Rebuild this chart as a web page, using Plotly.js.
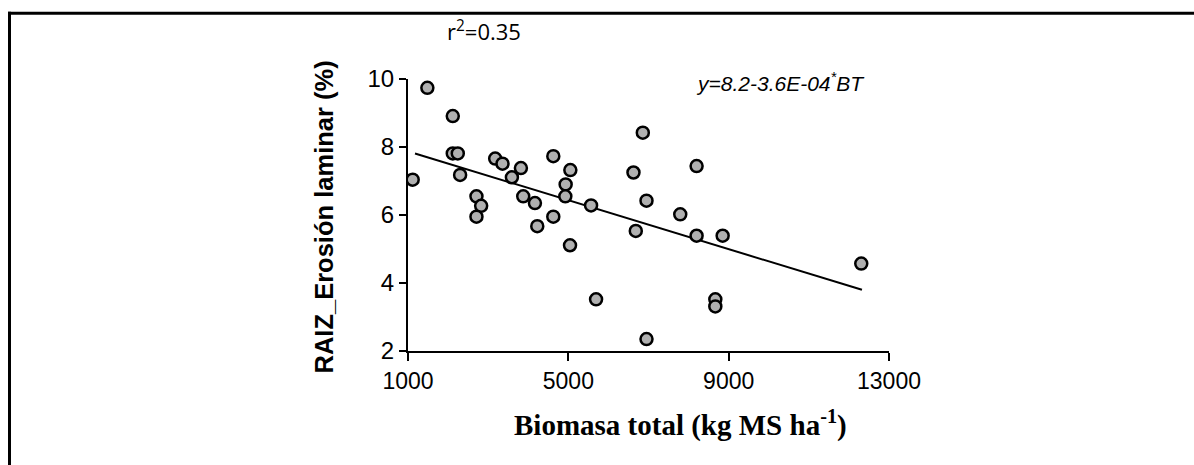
<!DOCTYPE html>
<html>
<head>
<meta charset="utf-8">
<script src="https://cdn.plot.ly/plotly-3.0.1.min.js"></script>
<style>
html,body{margin:0;padding:0;background:#fff;}
#chart{width:1194px;height:465px;}
</style>
</head>
<body>
<div id="chart"></div>
<script>
// Observed data: Biomasa total (kg MS/ha) vs RAIZ_Erosión laminar (%)
const biomasa = [1117, 1483, 2117, 2117, 2242, 2300, 2708, 2825, 2708, 3175,
                 3358, 3592, 3817, 3875, 4167, 4225, 4625, 4625, 4933, 4925,
                 5050, 5567, 6625, 6858, 6683, 6950, 5042, 5692, 6950, 8200,
                 7792, 8200, 8850, 12308, 8667, 8667];
const raiz = [7.04, 9.74, 8.91, 7.81, 7.81, 7.18, 6.55, 6.27, 5.95, 7.66,
              7.51, 7.11, 7.38, 6.55, 6.35, 5.67, 7.73, 5.95, 6.90, 6.55,
              7.32, 6.28, 7.25, 8.42, 5.53, 6.42, 5.11, 3.52, 2.35, 7.44,
              6.02, 5.39, 5.39, 4.57, 3.52, 3.31];
// Fitted line endpoints
const fitX = [1175, 12325];
const fitY = [7.81, 3.80];
// Axis ticks
const xTicks = [1000, 5000, 9000, 13000];
const xTickText = ['1000', '5000', '9000', '13000'];
const yTicks = [2, 4, 6, 8, 10];
const yTickText = ['2', '4', '6', '8', '10'];

const traces = [
  {x: fitX, y: fitY, mode: 'lines', type: 'scatter',
   line: {color: '#000', width: 2}, hoverinfo: 'skip', showlegend: false},
  {x: biomasa, y: raiz, mode: 'markers', type: 'scatter',
   marker: {size: 12, color: '#b0b0b0', line: {color: '#000', width: 2.5}},
   showlegend: false}
];

const W = 1194, H = 465, L = 408, R = 889, T = 78.5, B = 351.5;
const px = v => (v - L) / (R - L);
const py = v => (B - v) / (B - T);

const layout = {
  width: W, height: H,
  margin: {l: L, r: W - R, t: T, b: H - B, pad: 0},
  paper_bgcolor: '#fff', plot_bgcolor: '#fff',
  showlegend: false,
  xaxis: {range: [1000, 13000], tickvals: xTicks, ticktext: xTickText,
          showgrid: false, zeroline: false, showline: true, linecolor: '#000', linewidth: 2,
          ticks: 'outside', ticklen: 8, tickwidth: 2, tickcolor: '#000',
          tickfont: {family: 'Liberation Sans, Arial, sans-serif', size: 23, color: '#000'}},
  yaxis: {range: [2, 10], tickvals: yTicks, ticktext: yTickText,
          showgrid: false, zeroline: false, showline: true, linecolor: '#000', linewidth: 2,
          ticks: 'outside', ticklen: 7, tickwidth: 2, tickcolor: '#000',
          tickfont: {family: 'Liberation Sans, Arial, sans-serif', size: 24, color: '#000'}},
  annotations: [
    {text: '<b>RAIZ_Erosión laminar (%)</b>', xref: 'paper', yref: 'paper',
     x: px(324), y: py(217.5), textangle: -90, showarrow: false,
     xanchor: 'center', yanchor: 'middle',
     font: {family: 'Liberation Sans, Arial, sans-serif', size: 25.5, color: '#000'}},
    {text: '<b>Biomasa total (kg MS ha<sup>-1</sup>)</b>', xref: 'paper', yref: 'paper',
     x: px(680), y: py(424), showarrow: false, xanchor: 'center', yanchor: 'middle',
     font: {family: 'Liberation Serif, Times New Roman, serif', size: 29, color: '#000'}},
    {text: 'r<sup>2</sup>=0.35', xref: 'paper', yref: 'paper',
     x: px(445), y: py(30), showarrow: false, xanchor: 'left', yanchor: 'middle',
     font: {family: 'Open Sans, sans-serif', size: 22, color: '#000'}},
    {text: '<i>y=8.2-3.6E-04<sup>*</sup>BT</i>', xref: 'paper', yref: 'paper',
     x: px(694), y: py(82), showarrow: false, xanchor: 'left', yanchor: 'middle',
     font: {family: 'Liberation Sans, Arial, sans-serif', size: 21, color: '#000'}}
  ],
  shapes: [
    {type: 'line', xref: 'paper', yref: 'paper', x0: px(8), x1: px(1200), y0: py(12.5), y1: py(12.5),
     line: {color: '#000', width: 3}},
    {type: 'line', xref: 'paper', yref: 'paper', x0: px(9.5), x1: px(9.5), y0: py(11), y1: py(470),
     line: {color: '#000', width: 3}}
  ]
};

Plotly.newPlot('chart', traces, layout, {staticPlot: true, displayModeBar: false});
</script>
</body>
</html>
